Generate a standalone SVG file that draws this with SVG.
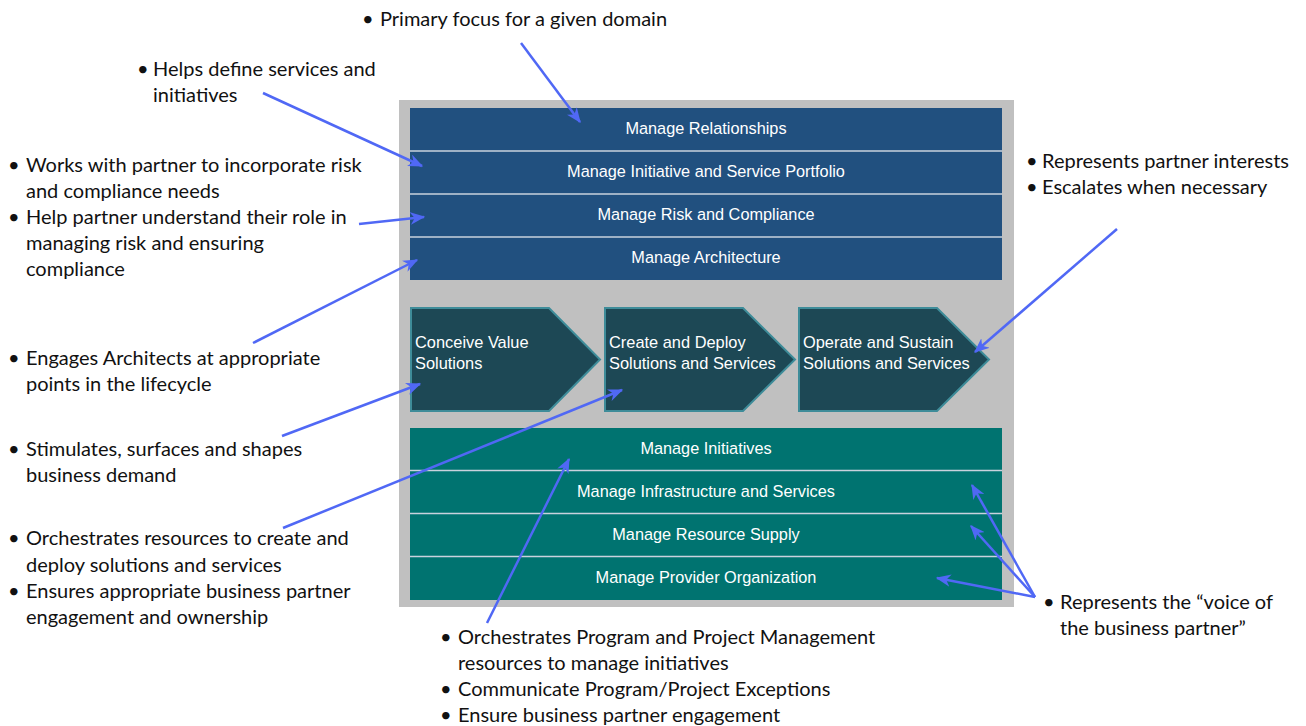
<svg xmlns="http://www.w3.org/2000/svg" width="1306" height="726" viewBox="0 0 1306 726">
<defs>
<style>
.note{font-family:Lato,"Open Sans","Liberation Sans",sans-serif;font-size:20px;fill:#111}
.bar{font-family:"Liberation Sans",Arial,sans-serif;font-size:16.3px;fill:#fff;text-anchor:middle}
.chev{font-family:"Liberation Sans",Arial,sans-serif;font-size:16.4px;fill:#fff}
.blue{fill:#21507f}
.teal{fill:#007370}
.sep{stroke:#c9d2dd;stroke-width:1.5}
.chevshape{fill:#1d4855;stroke:#3e8c99;stroke-width:2}
.arrow{stroke:#5068f5;stroke-width:2.5;fill:none;marker-end:url(#ah)}
</style>
<marker id="ah" viewBox="0 0 12 10" refX="11" refY="5" markerWidth="6" markerHeight="5" orient="auto" markerUnits="strokeWidth">
<path d="M0,0 L12,5 L0,10 L3.5,5 z" fill="#5068f5"/>
</marker>
</defs>
<rect width="1306" height="726" fill="#fff"/>
<g id="panel">
<rect x="399" y="100" width="615" height="507" fill="#c0c0c0"/>
</g>
<g id="top-layer">
<rect x="410" y="108" width="592" height="172" class="blue"/>
<line x1="410" y1="151" x2="1002" y2="151" class="sep"/>
<line x1="410" y1="194" x2="1002" y2="194" class="sep"/>
<line x1="410" y1="237" x2="1002" y2="237" class="sep"/>
</g>
<g id="manage-relationships"><text x="706" y="134" class="bar">Manage Relationships</text></g>
<g id="manage-portfolio"><text x="706" y="177" class="bar">Manage Initiative and Service Portfolio</text></g>
<g id="manage-risk"><text x="706" y="220" class="bar">Manage Risk and Compliance</text></g>
<g id="manage-architecture"><text x="706" y="263" class="bar">Manage Architecture</text></g>
<g id="conceive">
<polygon points="411,308 549,308 600,359.5 549,411 411,411" class="chevshape"/>
<text class="chev"><tspan x="415" y="348">Conceive Value</tspan><tspan x="415" y="369">Solutions</tspan></text>
</g>
<g id="create">
<polygon points="605,308 743,308 795,359.5 743,411 605,411" class="chevshape"/>
<text class="chev"><tspan x="609" y="348">Create and Deploy</tspan><tspan x="609" y="369">Solutions and Services</tspan></text>
</g>
<g id="operate">
<polygon points="799,308 937,308 989,359.5 937,411 799,411" class="chevshape"/>
<text class="chev"><tspan x="803" y="348">Operate and Sustain</tspan><tspan x="803" y="369">Solutions and Services</tspan></text>
</g>
<g id="bottom-layer">
<rect x="410" y="428" width="592" height="172" class="teal"/>
<line x1="410" y1="470.5" x2="1002" y2="470.5" class="sep"/>
<line x1="410" y1="513.5" x2="1002" y2="513.5" class="sep"/>
<line x1="410" y1="556.5" x2="1002" y2="556.5" class="sep"/>
</g>
<g id="manage-initiatives"><text x="706" y="454" class="bar">Manage Initiatives</text></g>
<g id="manage-infrastructure"><text x="706" y="497" class="bar">Manage Infrastructure and Services</text></g>
<g id="manage-resource"><text x="706" y="540" class="bar">Manage Resource Supply</text></g>
<g id="manage-provider"><text x="706" y="583" class="bar">Manage Provider Organization</text></g>
<g id="note-primary"><text class="note"><tspan x="362" y="26">•</tspan><tspan x="380" y="26">Primary focus for a given domain</tspan></text></g>
<g id="note-helps"><text class="note"><tspan x="137" y="76">•</tspan><tspan x="153" y="76">Helps define services and</tspan><tspan x="153" y="102">initiatives</tspan></text></g>
<g id="note-risk"><text class="note"><tspan x="8" y="172">•</tspan><tspan x="26" y="172">Works with partner to incorporate risk</tspan><tspan x="26" y="198">and compliance needs</tspan><tspan x="8" y="224">•</tspan><tspan x="26" y="224">Help partner understand their role in</tspan><tspan x="26" y="250">managing risk and ensuring</tspan><tspan x="26" y="276">compliance</tspan></text></g>
<g id="note-engages"><text class="note"><tspan x="8" y="365">•</tspan><tspan x="26" y="365">Engages Architects at appropriate</tspan><tspan x="26" y="391">points in the lifecycle</tspan></text></g>
<g id="note-stimulates"><text class="note"><tspan x="8" y="456">•</tspan><tspan x="26" y="456">Stimulates, surfaces and shapes</tspan><tspan x="26" y="482">business demand</tspan></text></g>
<g id="note-orchestrates"><text class="note"><tspan x="8" y="545">•</tspan><tspan x="26" y="545">Orchestrates resources to create and</tspan><tspan x="26" y="572">deploy solutions and services</tspan><tspan x="8" y="598">•</tspan><tspan x="26" y="598">Ensures appropriate business partner</tspan><tspan x="26" y="624">engagement and ownership</tspan></text></g>
<g id="note-partner"><text class="note"><tspan x="1026" y="168">•</tspan><tspan x="1042" y="168">Represents partner interests</tspan><tspan x="1026" y="194">•</tspan><tspan x="1042" y="194">Escalates when necessary</tspan></text></g>
<g id="note-voice"><text class="note"><tspan x="1043" y="609">•</tspan><tspan x="1060" y="609">Represents the “voice of</tspan><tspan x="1060" y="635">the business partner”</tspan></text></g>
<g id="note-program"><text class="note"><tspan x="440" y="644">•</tspan><tspan x="458" y="644">Orchestrates Program and Project Management</tspan><tspan x="458" y="670">resources to manage initiatives</tspan><tspan x="440" y="696">•</tspan><tspan x="458" y="696">Communicate Program/Project Exceptions</tspan><tspan x="440" y="722">•</tspan><tspan x="458" y="722">Ensure business partner engagement</tspan></text></g>
<g id="connectors">
<line x1="521" y1="43" x2="580" y2="122" class="arrow"/>
<line x1="263" y1="93" x2="422" y2="166" class="arrow"/>
<line x1="359" y1="224" x2="424" y2="217" class="arrow"/>
<line x1="253" y1="343" x2="417" y2="260" class="arrow"/>
<line x1="282" y1="436" x2="420" y2="384" class="arrow"/>
<line x1="283" y1="528" x2="622" y2="390" class="arrow"/>
<line x1="487" y1="623" x2="569" y2="459" class="arrow"/>
<line x1="1117" y1="229" x2="975" y2="352" class="arrow"/>
<line x1="1035" y1="597" x2="972" y2="485" class="arrow"/>
<line x1="1035" y1="597" x2="971" y2="526" class="arrow"/>
<line x1="1035" y1="597" x2="937" y2="578" class="arrow"/>
</g>
</svg>
